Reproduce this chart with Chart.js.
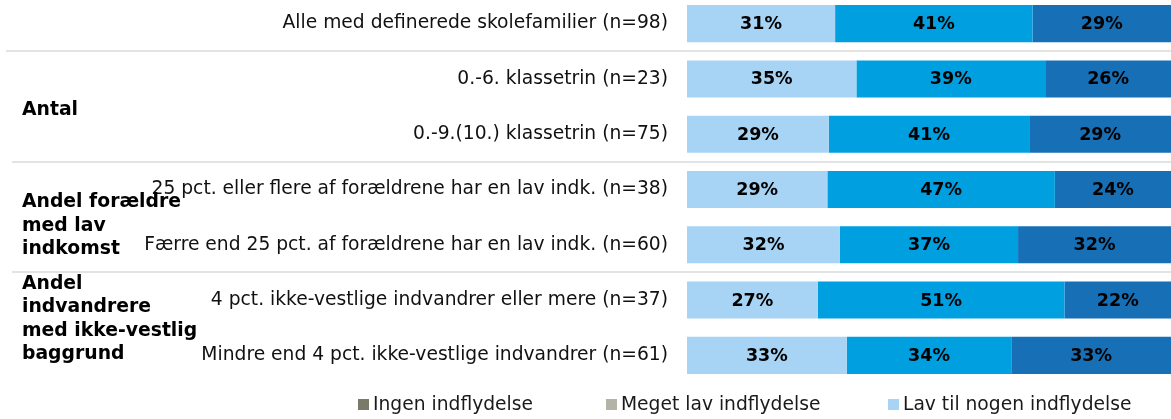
<!DOCTYPE html>
<html>
<head>
<meta charset="utf-8">
<script src="https://cdn.jsdelivr.net/npm/chart.js@4.4.1/dist/chart.umd.min.js"></script>
<style>
  html, body { margin: 0; padding: 0; background: #fff; overflow: hidden; }
  #wrap { position: absolute; left: 0; top: -4px; width: 1171px; height: 423px; }
</style>
</head>
<body>
<div id="wrap"><canvas id="chart"></canvas></div>
<script>
const categories = [
  "Alle med definerede skolefamilier (n=98)",
  "0.-6. klassetrin (n=23)",
  "0.-9.(10.) klassetrin (n=75)",
  "25 pct. eller flere af forældrene har en lav indk. (n=38)",
  "Færre end 25 pct. af forældrene har en lav indk. (n=60)",
  "4 pct. ikke-vestlige indvandrer eller mere (n=37)",
  "Mindre end 4 pct. ikke-vestlige indvandrer (n=61)"
];

const seriesLabels = [
  "Ingen indflydelse",
  "Meget lav indflydelse",
  "Lav til nogen indflydelse",
  "Nogen til stor indflydelse",
  "Stor indflydelse"
];

// shares in percent (labels show them rounded)
const ingen = [0, 0, 0, 0, 0, 0, 0];
const megetLav = [0, 0, 0, 0, 0, 0, 0];
const lavTilNogen = [30.6, 35, 29.3, 29, 31.6, 27, 33];
const nogenTilStor = [40.8, 39, 41.4, 47, 36.8, 51, 34];
const stor = [28.6, 26, 29.3, 24, 31.6, 22, 33];

const seriesColors = ["#7a7a6b", "#b3b3a7", "#a7d4f4", "#009fe0", "#176fb6"];

// group headings on the left, and which rows they belong to
const groupLabels = [
  ["Antal"],
  ["Andel forældre", "med lav", "indkomst"],
  ["Andel", "indvandrere", "med ikke-vestlig", "baggrund"]
];
const groupRows = [1, 3, 5];
const separatorsAfter = [0, 2, 4];

const FONT = '"DejaVu Sans", Verdana, sans-serif';

// only the first three legend entries fit inside the picture
const legendX = [358, 606, 888];
const groupShift = [31, 13, -16];

const overlay = {
  id: "overlay",
  beforeDatasetsDraw(chart) {
    const { ctx } = chart;
    const y = chart.scales.y;
    ctx.save();
    ctx.strokeStyle = "#e3e3e3";
    ctx.lineWidth = 2;
    separatorsAfter.forEach((i, k) => {
      const yy = Math.round((y.getPixelForValue(i) + y.getPixelForValue(i + 1)) / 2);
      ctx.beginPath();
      ctx.moveTo(k === 0 ? 6 : 12, yy);
      ctx.lineTo(chart.width, yy);
      ctx.stroke();
    });

    ctx.fillStyle = "#000";
    ctx.font = "bold 18.8px " + FONT;
    ctx.textAlign = "left";
    ctx.textBaseline = "middle";
    groupLabels.forEach((lines, g) => {
      const y0 = y.getPixelForValue(groupRows[g]) + groupShift[g];
      lines.forEach((t, j) => ctx.fillText(t, 22, y0 + j * 23.5));
    });
    ctx.restore();
  },
  afterDatasetsDraw(chart) {
    const { ctx } = chart;
    ctx.save();
    ctx.fillStyle = "#000";
    ctx.font = "bold 17.5px " + FONT;
    ctx.textAlign = "center";
    ctx.textBaseline = "middle";
    chart.data.datasets.forEach((ds, d) => {
      const meta = chart.getDatasetMeta(d);
      meta.data.forEach((bar, i) => {
        const v = ds.data[i];
        if (!v) return;
        ctx.fillText(Math.round(v) + "%", (bar.x + bar.base) / 2, bar.y + 1);
      });
    });

    // legend
    ctx.font = "18.7px " + FONT;
    ctx.textAlign = "left";
    ctx.textBaseline = "alphabetic";
    const top = chart.chartArea.bottom + 16;
    legendX.forEach((x, i) => {
      ctx.fillStyle = seriesColors[i];
      ctx.fillRect(x, top, 11, 11);
      ctx.fillStyle = "#1a1a1a";
      ctx.fillText(seriesLabels[i], x + 15, top + 11);
    });
    ctx.restore();
  }
};

const seriesData = [ingen, megetLav, lavTilNogen, nogenTilStor, stor];

new Chart(document.getElementById("chart"), {
  type: "bar",
  data: {
    labels: categories,
    datasets: seriesData.map((arr, i) => ({
      label: seriesLabels[i],
      data: arr,
      backgroundColor: seriesColors[i],
      borderWidth: 0,
      barPercentage: 0.67,
      categoryPercentage: 1
    }))
  },
  options: {
    indexAxis: "y",
    responsive: true,
    maintainAspectRatio: false,
    animation: false,
    devicePixelRatio: 1,
    layout: { padding: { top: 0, right: 0, left: 0, bottom: 36 } },
    plugins: {
      legend: { display: false },
      tooltip: { enabled: false }
    },
    scales: {
      x: {
        stacked: true,
        display: false,
        min: 0,
        max: 100
      },
      y: {
        stacked: true,
        grid: { display: false, drawTicks: false },
        border: { display: false },
        ticks: {
          color: "#111",
          padding: 19,
          font: { family: FONT, size: 18.7 }
        },
        afterFit(scale) {
          scale.width = 687;
          scale.paddingTop = 0;
          scale.paddingBottom = 0;
        }
      }
    }
  },
  plugins: [overlay]
});
</script>
</body>
</html>
